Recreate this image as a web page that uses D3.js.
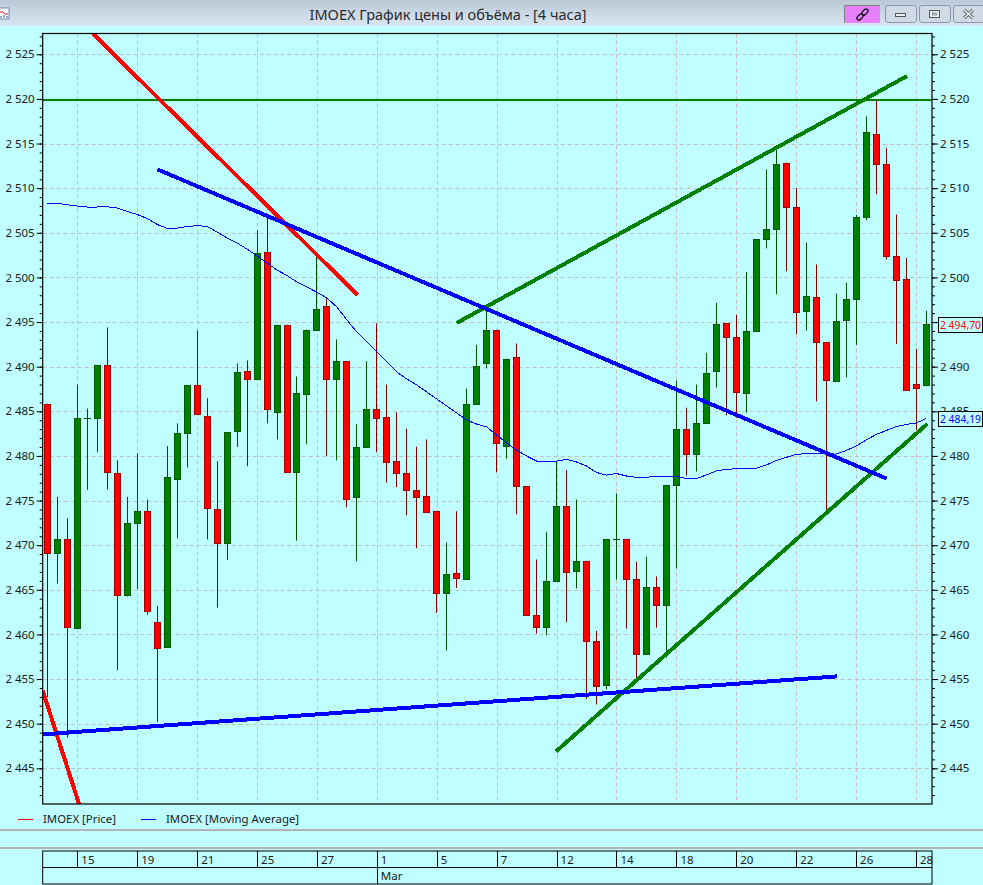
<!DOCTYPE html>
<html><head><meta charset="utf-8">
<script src="https://cdn.jsdelivr.net/npm/d3@7"></script>
<style>html,body{margin:0;padding:0;background:#bfffff;overflow:hidden}svg{display:block}text{font-family:"Noto Sans",sans-serif}</style>
</head><body><svg id="c" width="983" height="885"></svg>
<script>
const opens=[2485.85,2469.1,2470.65,2460.8,2484.2,2484.25,2490.2,2478.1,2464.4,2472.5,2473.85,2461.4,2458.5,2477.4,2482.55,2487.9,2484.5,2474.1,2470.25,2482.8,2489.55,2488.6,2502.8,2485,2494.7,2478.2,2486.95,2494.1,2496.75,2488.6,2490.65,2475.4,2481,2485.3,2484.4,2479.45,2478.1,2476.2,2475.55,2473.85,2464.7,2466.85,2466.2,2485.85,2490.4,2494.15,2481.2,2491.1,2476.65,2462.2,2460.9,2465.95,2474.4,2467.1,2468.25,2459.3,2454.3,2470.7,2470.7,2466.2,2457.8,2465.3,2463.25,2476.7,2483,2480.2,2483.65,2489.5,2494.9,2493.3,2487.1,2494,2504.3,2505.45,2512.85,2507.9,2496.2,2497.8,2492.75,2488.35,2495.2,2497.6,2506.75,2516.1,2512.7,2502.4,2499.85,2488.05,2487.95];
const highs=[2485.85,2475.4,2473,2488,2485.3,2490.2,2494.4,2479.5,2475.4,2480.3,2475.1,2463.2,2481.1,2483.65,2487.9,2494.05,2486.45,2479.4,2482.7,2490.35,2490.7,2505.3,2506.7,2494.7,2494.7,2488.9,2494.15,2502.4,2497.7,2493.05,2490.65,2483.55,2490.6,2494.85,2488,2484.9,2483.05,2481.05,2481.85,2473.85,2470.3,2473.8,2487.55,2492.45,2496.4,2494.15,2490.9,2492.6,2476.65,2468.4,2471.5,2479.4,2478.45,2475.1,2468.25,2460.4,2470.7,2475.8,2470.7,2468.15,2468.7,2466.5,2476.75,2488.45,2485.4,2488,2491.55,2497.15,2494.9,2495.8,2500.6,2504.3,2512.1,2514.35,2512.85,2510,2503.9,2501.45,2492.75,2498.2,2499.4,2507,2518.05,2519.9,2514.5,2507.05,2502.2,2492,2496.25];
const lows=[2453,2465.7,2448.45,2460.8,2476.2,2480.4,2476.25,2456,2464.25,2465.1,2462.2,2450.2,2458.5,2470.75,2478.7,2484.6,2470.65,2463,2468.35,2481,2478.85,2488.6,2483.65,2481.85,2478.2,2470.5,2481.3,2494.1,2480,2479.5,2474.25,2468.2,2481,2480.4,2477,2476.5,2473.35,2469.65,2473.8,2462.4,2458.2,2465.2,2466.2,2485.85,2489.8,2478.15,2479.7,2473.45,2462.1,2460.1,2459.9,2465.95,2461.35,2465.15,2452.8,2452.15,2453.85,2466.15,2460.65,2454.95,2457.8,2460.75,2457.4,2467.4,2477.8,2478.25,2483.65,2487.65,2484.55,2484.3,2484.85,2494,2503.25,2498.1,2500.7,2493.65,2494.05,2486.1,2473.75,2488.35,2488.8,2492.45,2506.4,2509.3,2502,2492.55,2487.45,2482.9,2487.8];
const closes=[2469.1,2470.7,2460.8,2484.3,2484.2,2490.2,2478.2,2464.4,2472.5,2473.85,2462.7,2458.5,2477.6,2482.6,2487.9,2484.6,2474.2,2470.25,2482.7,2489.45,2488.6,2502.7,2485.25,2494.7,2478.2,2487,2494.15,2496.5,2488.6,2490.65,2475.15,2481.05,2485.3,2484.25,2479.4,2478.1,2476.2,2475.4,2473.8,2464.7,2466.8,2466.25,2485.85,2490.1,2494.15,2481.45,2490.9,2476.6,2462.25,2460.9,2466,2474.4,2466.95,2468.25,2459.25,2454.3,2470.7,2470.7,2466.2,2457.8,2465.3,2463.25,2476.75,2483,2480.2,2483.7,2489.3,2494.8,2493.3,2487.1,2494,2504.3,2505.45,2512.75,2507.9,2496.1,2497.9,2492.75,2488.5,2495.1,2497.6,2506.8,2516.25,2512.7,2502.4,2499.7,2487.45,2487.55,2494.8];
const movingAverage=[2508.3,2508.3,2508.13,2508,2507.89,2507.89,2507.91,2507.77,2507.38,2507.05,2506.6,2505.93,2505.5,2505.53,2505.7,2505.81,2505.7,2505.09,2504.41,2503.85,2503.18,2502.4,2501.61,2500.83,2500.21,2499.48,2498.92,2498.33,2497.69,2496.68,2495.23,2493.88,2492.76,2491.64,2490.52,2489.4,2488.61,2487.94,2487.16,2486.37,2485.59,2484.81,2484.02,2483.57,2483.24,2482.34,2481.44,2480.66,2479.99,2479.43,2479.43,2479.43,2479.6,2479.32,2478.87,2478.14,2477.86,2478.03,2477.75,2477.6,2477.6,2477.75,2477.75,2477.71,2477.47,2477.47,2477.86,2478.31,2478.5,2478.56,2478.59,2478.61,2478.98,2479.48,2479.84,2480.16,2480.27,2480.29,2480.24,2480.21,2480.6,2481.11,2481.78,2482.4,2482.84,2483.27,2483.52,2483.69,2484.17];
// trend lines: [startBar, startPrice, endBar, endPrice]
const redTrend=[[4.54,2527.33,31.07,2498.03],[-0.46,2453.66,3.17,2441]];
const blueTrend=[[11.03,2512.1,84.07,2477.45],[-0.46,2448.8,79.1,2455.3]];
const greenTrend=[[41,2494.9,86.1,2522.56],[50.95,2446.9,88.14,2483.6]];
const resistance=2519.9;
const gridBars=[3,9,15,21,27,33,39,45,51,57,63,69,75,81,87];
const dayLabels=["15","19","21","25","27","1","5","7","12","14","18","20","22","26","28"];
const monthLabel="Mar", monthBar=33;
const yMajor=[2445,2450,2455,2460,2465,2470,2475,2480,2485,2490,2495,2500,2505,2510,2515,2520,2525];
const yMinor=d3.range(2442,2528);
const lastPrice=2494.70,lastMA=2484.19;
const titleText="IMOEX График цены и объёма - [4 часа]";
const legendNames=["IMOEX [Price]","IMOEX [Moving Average]"];

const L=42.7,R=932,T=33.5,B=804;
const x=d3.scaleLinear().domain([-0.47,88.6]).range([L,R]);
const y=d3.scaleLinear().domain([2441,2527.33]).range([B,T]);
const fmt=v=>{const s=Math.floor(v).toString();return s[0]+" "+s.slice(1)};
const fmt2=v=>{const s=v.toFixed(2).replace(".",",");return s[0]+" "+s.slice(1)};
const svg=d3.select("#c");
const defs=svg.append("defs");
const g=defs.append("linearGradient").attr("id","tb").attr("x1",0).attr("x2",0).attr("y1",0).attr("y2",1);
g.append("stop").attr("offset",0).attr("stop-color","#bcc8d6");
g.append("stop").attr("offset",1).attr("stop-color","#d9e6f2");
defs.append("clipPath").attr("id","plot").append("rect").attr("x",L).attr("y",T).attr("width",R-L).attr("height",B-T);

svg.append("rect").attr("width",983).attr("height",885).attr("fill","#bfffff");
// title bar
svg.append("rect").attr("width",983).attr("height",26).attr("fill","url(#tb)");
svg.append("text").attr("x",448).attr("y",20).attr("text-anchor","middle").attr("font-size",14.5).attr("fill","#2a2a2a").text(titleText);
const ic=svg.append("g");
ic.append("rect").attr("x",-1).attr("y",8).attr("width",10).attr("height",11).attr("fill","#fff").attr("stroke","#6c8cb0");
ic.append("path").attr("d","M0 12H3L5 14H8").attr("stroke","#d02020").attr("fill","none");
ic.append("path").attr("d","M1 18V16M4 18V15M7 18V16").attr("stroke","#3060a0").attr("fill","none");
// window buttons
svg.append("rect").attr("x",845).attr("y",6).attr("width",35).attr("height",17).attr("fill","#e580ff");
svg.append("path").attr("d","M844.5 23V5.5H880").attr("fill","none").attr("stroke","#808080").attr("stroke-width",1);
[[860,17],[865,12]].forEach(c=>svg.append("rect").attr("x",c[0]-3.5).attr("y",c[1]-2).attr("width",7).attr("height",4).attr("rx",2)
  .attr("transform",`rotate(-45 ${c[0]} ${c[1]})`).attr("fill","none").attr("stroke","#111").attr("stroke-width",1.3));
[[885.5,31],[919.5,31],[953.5,31]].forEach(b=>{
  svg.append("rect").attr("x",b[0]).attr("y",5.5).attr("width",b[1]).attr("height",17).attr("rx",2.5).attr("fill","#cfdae6").attr("stroke","#8a97ae");
});
svg.append("rect").attr("x",895.5).attr("y",13.5).attr("width",10).attr("height",3).attr("fill","#e8eef4").attr("stroke","#555");
svg.append("rect").attr("x",929.5).attr("y",10.5).attr("width",10).attr("height",7).attr("fill","#e8eef4").attr("stroke","#555");
svg.append("rect").attr("x",932.5).attr("y",13).attr("width",4).attr("height",2).attr("fill","#cfdae6").attr("stroke","#555").attr("stroke-width",.6);
svg.append("path").attr("d","M964 10L973 18M973 10L964 18").attr("stroke","#666").attr("stroke-width",3.4);
svg.append("path").attr("d","M964 10L973 18M973 10L964 18").attr("stroke","#eef2f6").attr("stroke-width",1.4);

// grid
const grid=svg.append("g").attr("stroke","#c6bebe").attr("stroke-width",1).attr("stroke-dasharray","4 3");
grid.selectAll(".h").data(yMajor).join("line").attr("x1",L).attr("x2",R).attr("y1",d=>Math.round(y(d))+.5).attr("y2",d=>Math.round(y(d))+.5);
grid.selectAll(".v").data(gridBars).join("line").attr("x1",d=>Math.round(x(d))+.5).attr("x2",d=>Math.round(x(d))+.5).attr("y1",T).attr("y2",B);

// candles
const bars=d3.range(opens.length);
const isUp=i=>closes[i]>=opens[i];
const plot=svg.append("g").attr("clip-path","url(#plot)");
const cx=i=>Math.round(x(i)-.5)+.5;
plot.append("g").selectAll("line").data(bars).join("line")
 .attr("x1",cx).attr("x2",cx).attr("y1",i=>y(highs[i])).attr("y2",i=>y(lows[i]))
 .attr("stroke",i=>isUp(i)?"#004f00":"#800000").attr("stroke-width",1);
plot.append("g").selectAll("rect").data(bars.filter(i=>opens[i]!==closes[i])).join("rect")
 .attr("x",i=>cx(i)-3).attr("width",6)
 .attr("y",i=>Math.round(y(Math.max(opens[i],closes[i])))+.5)
 .attr("height",i=>Math.max(1,Math.round(Math.abs(y(opens[i])-y(closes[i])))))
 .attr("fill",i=>isUp(i)?"#008000":"#ff0000")
 .attr("stroke",i=>isUp(i)?"#005a00":"#a00000").attr("stroke-width",1);
plot.append("g").selectAll("line").data(bars.filter(i=>opens[i]===closes[i])).join("line")
 .attr("x1",i=>cx(i)-3.5).attr("x2",i=>cx(i)+3.5)
 .attr("y1",i=>Math.round(y(opens[i]))+.5).attr("y2",i=>Math.round(y(opens[i]))+.5)
 .attr("stroke","#004f00");

// moving average
plot.append("path").datum(movingAverage)
 .attr("d",d3.line().x((d,i)=>x(i)).y(d=>y(d)))
 .attr("fill","none").attr("stroke","#0000ff").attr("stroke-width",1).attr("shape-rendering","crispEdges");

// horizontal resistance
plot.append("line").attr("x1",L).attr("x2",R).attr("y1",Math.round(y(resistance))).attr("y2",Math.round(y(resistance))).attr("stroke","#008000").attr("stroke-width",2);
// trend lines
const drawTrend=(arr,col)=>plot.append("g").selectAll("line").data(arr).join("line")
 .attr("x1",d=>x(d[0])).attr("y1",d=>y(d[1])).attr("x2",d=>x(d[2])).attr("y2",d=>y(d[3]))
 .attr("stroke",col).attr("stroke-width",4).attr("shape-rendering","crispEdges");
drawTrend(redTrend,"#ff0000");
drawTrend(greenTrend,"#008000");
drawTrend(blueTrend,"#0000ff");

// axes
const axisL=d3.axisLeft(y).tickValues(yMinor).tickSize(3).tickFormat("");
const axisR=d3.axisRight(y).tickValues(yMinor).tickSize(3).tickFormat("");
const style=s=>{s.selectAll("path.domain").remove();s.selectAll("line").attr("stroke","#000")};
svg.append("g").attr("transform",`translate(${L},0)`).call(axisL).call(style);
svg.append("g").attr("transform",`translate(${R},0)`).call(axisR).call(style);
const majorL=d3.axisLeft(y).tickValues(yMajor).tickSize(6).tickPadding(2).tickFormat(fmt);
const majorR=d3.axisRight(y).tickValues(yMajor).tickSize(6).tickPadding(2).tickFormat(fmt);
const styleM=s=>{s.selectAll("path.domain").remove();s.selectAll("line").attr("stroke","#000");s.selectAll("text").attr("fill","#1a1a1a").attr("font-size",11.5).style("font-family",'"Noto Sans",sans-serif')};
svg.append("g").attr("transform",`translate(${L},0)`).call(majorL).call(styleM);
svg.append("g").attr("transform",`translate(${R},0)`).call(majorR).call(styleM);
svg.append("rect").attr("x",L).attr("y",T).attr("width",R-L).attr("height",B-T).attr("fill","none").attr("stroke","#000").attr("stroke-width",1.2);

// value tags
[[lastPrice,"#ff0000"],[lastMA,"#0000ff"]].forEach(d=>{
  const yy=y(d[0]);
  svg.append("rect").attr("x",938.5).attr("y",Math.round(yy)-7.5).attr("width",44).attr("height",15).attr("fill","#bfffff").attr("stroke","#000");
  svg.append("text").attr("x",940).attr("y",yy+4.5).attr("fill",d[1]).attr("font-size",11.5)
    .attr("textLength",41).attr("lengthAdjust","spacingAndGlyphs").text(fmt2(d[0]));
});

// legend
[[18,33,"#ff0000",43,0],[141,156,"#0000ff",166,1]].forEach(d=>{
  svg.append("line").attr("x1",d[0]).attr("x2",d[1]).attr("y1",819.5).attr("y2",819.5).attr("stroke",d[2]);
  svg.append("text").attr("x",d[3]).attr("y",823).attr("font-size",11.4).attr("fill","#1a1a1a").text(legendNames[d[4]]);
});
[830,848].forEach(v=>svg.append("line").attr("x1",0).attr("x2",983).attr("y1",v).attr("y2",v).attr("stroke","#b4b4b4").attr("stroke-width",2));

// date strip
const strip=svg.append("g").attr("stroke","#000").attr("fill","none");
strip.append("rect").attr("x",L).attr("y",851).attr("width",R-L).attr("height",33);
strip.append("line").attr("x1",L).attr("x2",R).attr("y1",867.5).attr("y2",867.5);
strip.selectAll(".t").data(gridBars).join("line").attr("x1",d=>Math.round(x(d))+.5).attr("x2",d=>Math.round(x(d))+.5).attr("y1",851).attr("y2",867.5);
strip.append("line").attr("x1",Math.round(x(monthBar))+.5).attr("x2",Math.round(x(monthBar))+.5).attr("y1",867.5).attr("y2",884);
svg.append("g").selectAll("text").data(gridBars).join("text").attr("x",d=>x(d)+4).attr("y",863.5).attr("font-size",11.5).attr("fill","#1a1a1a").text((d,i)=>dayLabels[i]);
svg.append("text").attr("x",x(monthBar)+4).attr("y",880).attr("font-size",11.5).attr("fill","#1a1a1a").text(monthLabel);
</script></body></html>
